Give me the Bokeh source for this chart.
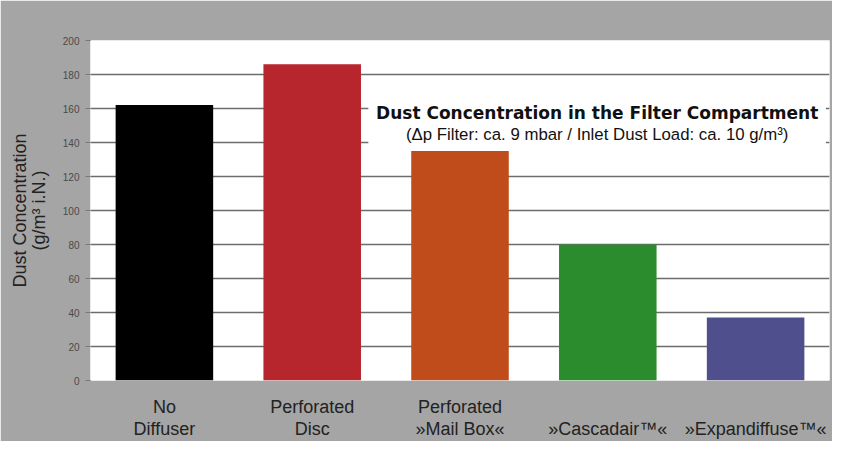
from bokeh.plotting import figure
from bokeh.models import Range1d, FixedTicker, BoxAnnotation, Label
from bokeh.embed import file_html
from bokeh.resources import INLINE

categories = ["No\nDiffuser", "Perforated\nDisc", "Perforated\n»Mail Box«", "\n»Cascadair™«", "\n»Expandiffuse™«"]
values = [162, 186, 135, 80, 37]
colors = ["#000000", "#b7252d", "#c04b1b", "#2a8c2c", "#4f4f8d"]
y_ticks = [0, 20, 40, 60, 80, 100, 120, 140, 160, 180, 200]
title_text = "Dust Concentration in the Filter Compartment"
subtitle_text = "(Δp Filter: ca. 9 mbar / Inlet Dust Load: ca. 10 g/m³)"
y_label = "Dust Concentration\n(g/m³ i.N.)"

BG = "#a5a5a5"
FONT = "Liberation Sans"

p = figure(x_range=categories, y_range=Range1d(0, 200), width=832, height=441,
           min_border_left=90, min_border_right=3, min_border_top=40, min_border_bottom=56,
           background_fill_color="white", border_fill_color=BG, outline_line_color=None,
           toolbar_location=None, output_backend="svg")

p.vbar(x=categories, top=values, width=0.66, fill_color=colors, line_color=None)

# grid
p.xgrid.grid_line_color = None
p.ygrid.ticker = FixedTicker(ticks=y_ticks[:-1])
p.ygrid.grid_line_color = "#6c6c6c"
p.ygrid.grid_line_width = 1.5

# y axis
p.yaxis.ticker = FixedTicker(ticks=y_ticks)
p.yaxis.axis_line_color = None
p.yaxis.major_tick_out = 5
p.yaxis.major_tick_in = 0
p.yaxis.major_tick_line_color = "#777777"
p.yaxis.minor_tick_line_color = None
p.yaxis.major_label_text_font = FONT
p.yaxis.major_label_text_font_size = "10px"
p.yaxis.major_label_text_color = "#4a4a4a"
p.yaxis.major_label_standoff = 6
p.yaxis.axis_label = y_label
p.yaxis.axis_label_text_font = FONT
p.yaxis.axis_label_text_font_size = "18px"
p.yaxis.axis_label_text_font_style = "normal"
p.yaxis.axis_label_text_color = "#222222"
p.yaxis.axis_label_text_line_height = 0.95
p.yaxis.axis_label_standoff = 11

# x axis
p.xaxis.axis_line_color = None
p.xaxis.major_tick_line_color = None
p.xaxis.minor_tick_line_color = None
p.xaxis.major_label_text_font = FONT
p.xaxis.major_label_text_font_size = "18px"
p.xaxis.major_label_text_color = "#222222"
p.xaxis.major_label_text_line_height = 1.1
p.xaxis.major_label_standoff = 10

# title box
p.add_layout(BoxAnnotation(left=1.88, right=4.976, bottom=136.5, top=170,
                           fill_color="white", fill_alpha=1.0, line_color=None, level="annotation"))
p.add_layout(Label(x=3.428, y=157.4, text=title_text, text_align="center", text_baseline="alphabetic",
                   text_font="DejaVu Sans", text_font_style="bold", text_font_size="17px",
                   text_color="#111111"))
p.add_layout(Label(x=3.428, y=144.7, text=subtitle_text, text_align="center", text_baseline="alphabetic",
                   text_font=FONT, text_font_size="16.8px", text_color="#111111"))

open("out.html", "w").write(file_html(p, INLINE))
